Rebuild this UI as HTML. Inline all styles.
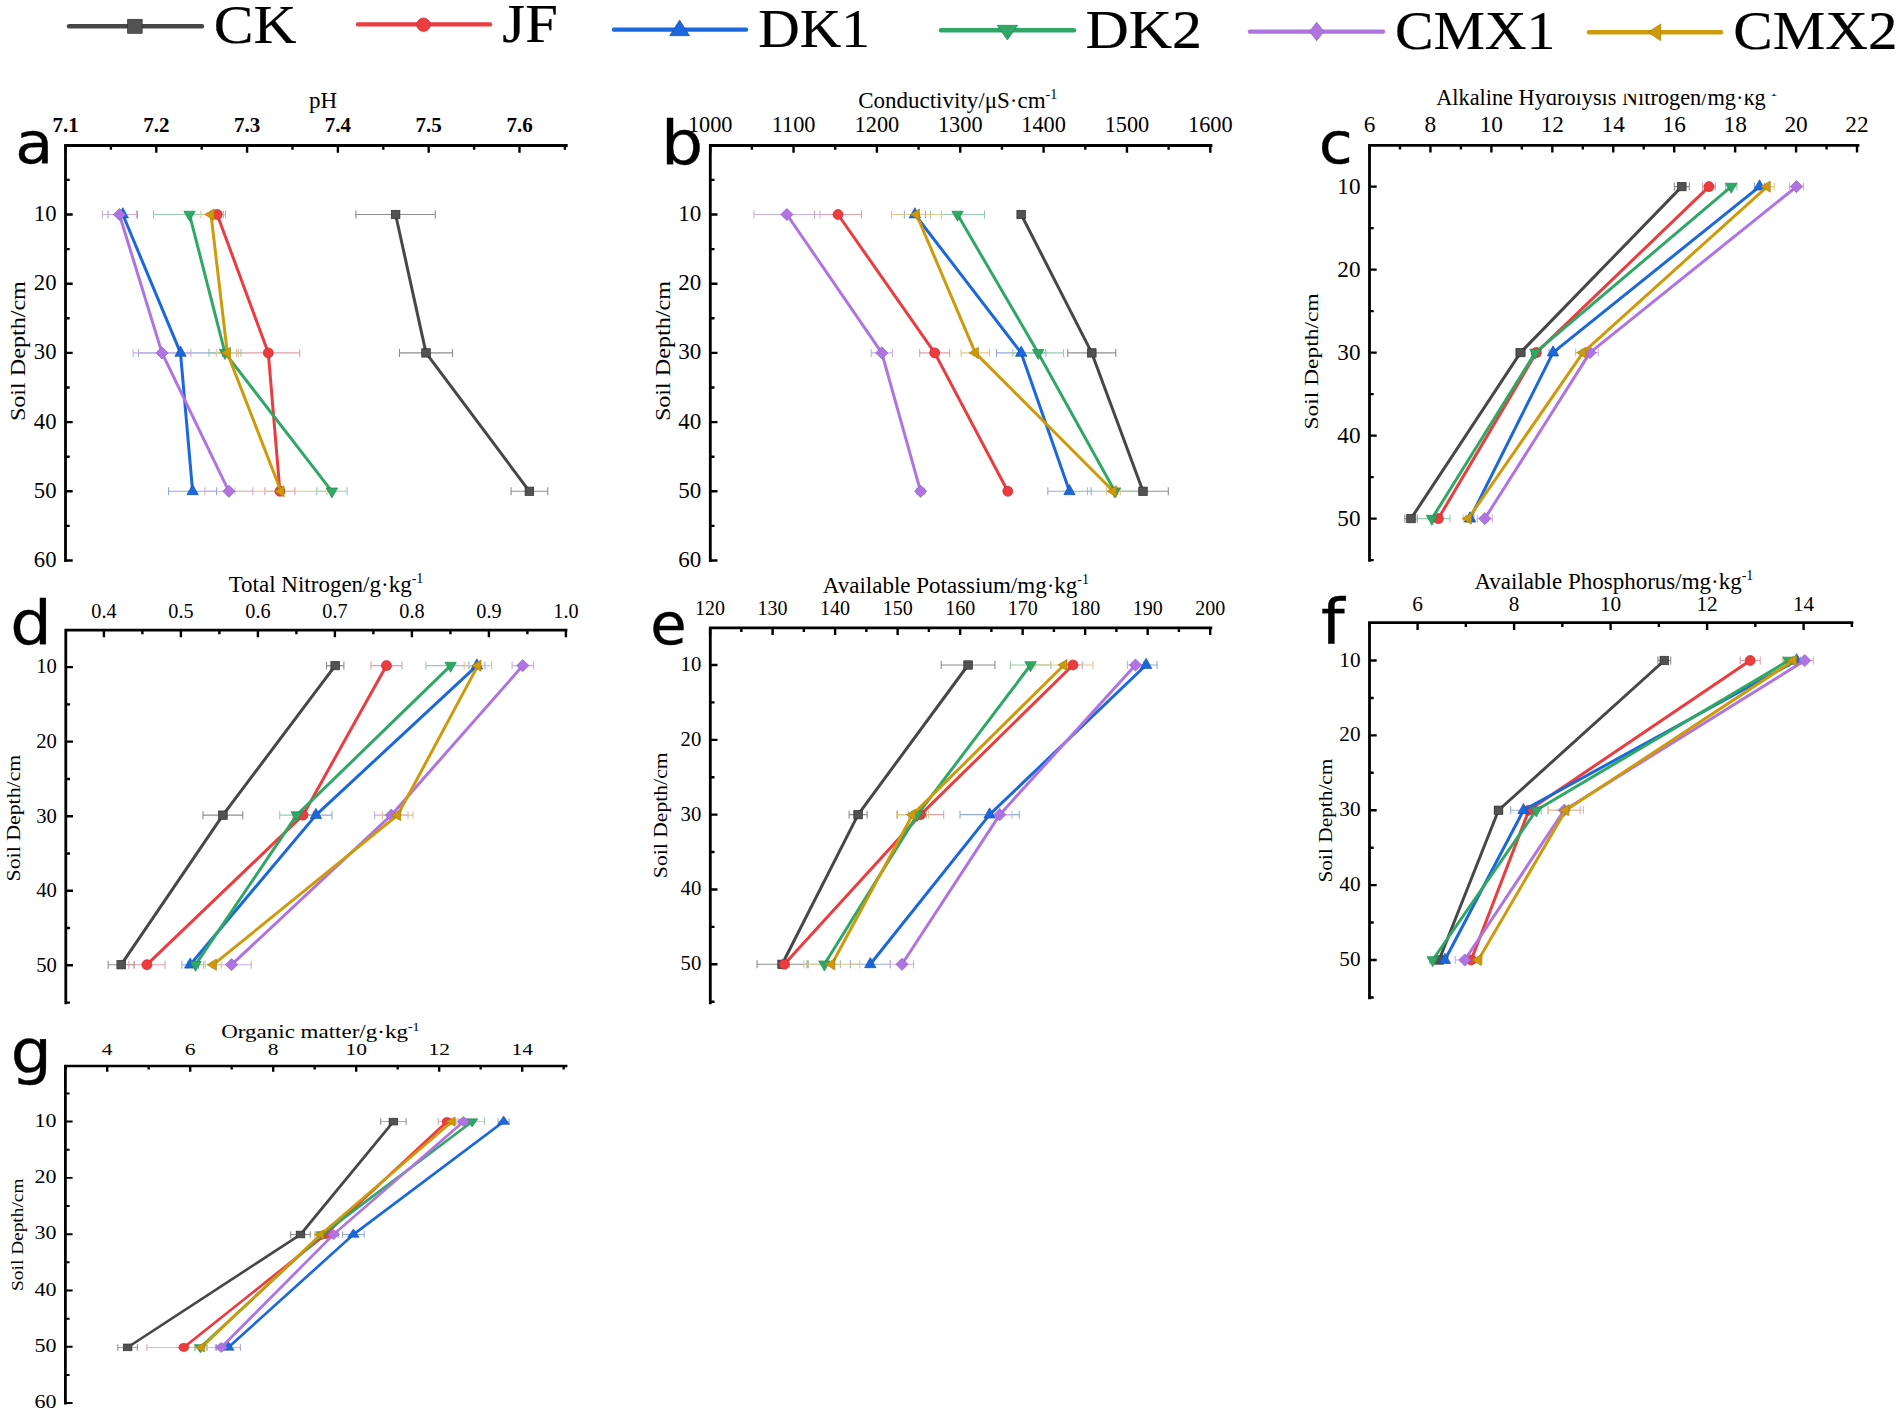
<!DOCTYPE html>
<html><head><meta charset="utf-8"><title>Soil depth profiles</title>
<style>html,body{margin:0;padding:0;background:#fff;}svg{display:block;}</style>
</head><body>
<svg width="1902" height="1416" viewBox="0 0 1902 1416">
<rect width="1902" height="1416" fill="#fff"/>
<line x1="69" y1="26.3" x2="202" y2="26.3" stroke="#474747" stroke-width="4.4" stroke-linecap="round"/>
<rect x="127.65" y="19.3" width="14.5" height="14" fill="#525252" stroke="#303030" stroke-width="0.7"/>
<text transform="matrix(0.59567 0 0 0.54762 213.86 43.35)" font-family="'Liberation Serif','Times New Roman',serif" font-size="100" stroke="#000" stroke-width="0.4">CK</text>
<line x1="358" y1="24.4" x2="490" y2="24.4" stroke="#ec3c40" stroke-width="4.4" stroke-linecap="round"/>
<ellipse cx="423.5" cy="24.7" rx="6.75" ry="6.75" fill="#ec3c40" stroke="#c8282e" stroke-width="0.7"/>
<text transform="matrix(0.58559 0 0 0.55338 502.37 42.35)" font-family="'Liberation Serif','Times New Roman',serif" font-size="100" stroke="#000" stroke-width="0.4">JF</text>
<line x1="614" y1="29.6" x2="746" y2="29.6" stroke="#1b68dc" stroke-width="4.4" stroke-linecap="round"/>
<polygon points="679.6,20.1 669.7,35.7 689.5,35.7" fill="#1b68dc" stroke="#1450b0" stroke-width="0.7"/>
<text transform="matrix(0.57466 0 0 0.55740 758.23 47.09)" font-family="'Liberation Serif','Times New Roman',serif" font-size="100" stroke="#000" stroke-width="0.4">DK1</text>
<line x1="941" y1="30.2" x2="1074" y2="30.2" stroke="#2fa866" stroke-width="4.4" stroke-linecap="round"/>
<polygon points="1007.4,40 997.15,25.3 1017.65,25.3" fill="#2fa866" stroke="#1f8a50" stroke-width="0.7"/>
<text transform="matrix(0.59892 0 0 0.55572 1085.46 47.69)" font-family="'Liberation Serif','Times New Roman',serif" font-size="100" stroke="#000" stroke-width="0.4">DK2</text>
<line x1="1250" y1="31.6" x2="1383" y2="31.6" stroke="#b074e2" stroke-width="4.4" stroke-linecap="round"/>
<polygon points="1316.7,22.2 1323.95,31.5 1316.7,40.8 1309.45,31.5" fill="#b074e2" stroke="#9060c8" stroke-width="0.7"/>
<text transform="matrix(0.57789 0 0 0.54911 1394.93 48.95)" font-family="'Liberation Serif','Times New Roman',serif" font-size="100" stroke="#000" stroke-width="0.4">CMX1</text>
<line x1="1589" y1="32.2" x2="1721" y2="32.2" stroke="#cf9a0a" stroke-width="4.4" stroke-linecap="round"/>
<polygon points="1648.03,32.3 1660.73,23.9 1660.73,40.7" fill="#cf9a0a" stroke="#a87c08" stroke-width="0.7"/>
<text transform="matrix(0.59098 0 0 0.55060 1733.28 49.45)" font-family="'Liberation Serif','Times New Roman',serif" font-size="100" stroke="#000" stroke-width="0.4">CMX2</text>
<path d="M65.5 145.5H566.3 M65.5 145.5V560.5" stroke="#000" stroke-width="2.8" fill="none" stroke-linecap="square"/>
<path d="M65.5 145.5V152.7 M156.3 145.5V152.7 M247.1 145.5V152.7 M337.9 145.5V152.7 M428.7 145.5V152.7 M519.5 145.5V152.7 M110.9 145.5V149.7 M201.7 145.5V149.7 M292.5 145.5V149.7 M383.3 145.5V149.7 M474.1 145.5V149.7 M564.9 145.5V149.7 M65.5 214.5H72.7 M65.5 283.7H72.7 M65.5 352.9H72.7 M65.5 422.1H72.7 M65.5 491.3H72.7 M65.5 560.5H72.7 M65.5 179.9H69.7 M65.5 249.1H69.7 M65.5 318.3H69.7 M65.5 387.5H69.7 M65.5 456.7H69.7 M65.5 525.9H69.7" stroke="#000" stroke-width="2.4" fill="none"/>
<text x="65.5" y="131.7" font-family="'Liberation Serif','Times New Roman',serif" font-size="21" font-weight="bold" text-anchor="middle">7.1</text>
<text x="156.3" y="131.7" font-family="'Liberation Serif','Times New Roman',serif" font-size="21" font-weight="bold" text-anchor="middle">7.2</text>
<text x="247.1" y="131.7" font-family="'Liberation Serif','Times New Roman',serif" font-size="21" font-weight="bold" text-anchor="middle">7.3</text>
<text x="337.9" y="131.7" font-family="'Liberation Serif','Times New Roman',serif" font-size="21" font-weight="bold" text-anchor="middle">7.4</text>
<text x="428.7" y="131.7" font-family="'Liberation Serif','Times New Roman',serif" font-size="21" font-weight="bold" text-anchor="middle">7.5</text>
<text x="519.5" y="131.7" font-family="'Liberation Serif','Times New Roman',serif" font-size="21" font-weight="bold" text-anchor="middle">7.6</text>
<text x="56.5" y="220.9" font-family="'Liberation Serif','Times New Roman',serif" font-size="22.7" font-weight="normal" text-anchor="end">10</text>
<text x="56.5" y="290.1" font-family="'Liberation Serif','Times New Roman',serif" font-size="22.7" font-weight="normal" text-anchor="end">20</text>
<text x="56.5" y="359.3" font-family="'Liberation Serif','Times New Roman',serif" font-size="22.7" font-weight="normal" text-anchor="end">30</text>
<text x="56.5" y="428.5" font-family="'Liberation Serif','Times New Roman',serif" font-size="22.7" font-weight="normal" text-anchor="end">40</text>
<text x="56.5" y="497.7" font-family="'Liberation Serif','Times New Roman',serif" font-size="22.7" font-weight="normal" text-anchor="end">50</text>
<text x="56.5" y="566.9" font-family="'Liberation Serif','Times New Roman',serif" font-size="22.7" font-weight="normal" text-anchor="end">60</text>
<text x="323" y="107.7" font-family="'Liberation Serif','Times New Roman',serif" font-size="23" font-weight="normal" text-anchor="middle">pH</text>
<text transform="matrix(0 -0.24135 0.20507 0 25.03 421.12)" font-family="'Liberation Serif','Times New Roman',serif" font-size="100">Soil Depth/cm</text>
<path d="M355.9 214.5H435.3 M355.9 210.5V218.5 M435.3 210.5V218.5 M399.5 352.9H452.5 M399.5 348.9V356.9 M452.5 348.9V356.9 M511.1 491.3H547.7 M511.1 487.3V495.3 M547.7 487.3V495.3" stroke="#8e8e8e" stroke-width="1.1" fill="none"/>
<path d="M210.9 214.5H223.5 M210.9 210.5V218.5 M223.5 210.5V218.5 M236.8 352.9H299.8 M236.8 348.9V356.9 M299.8 348.9V356.9 M264.9 491.3H294.9 M264.9 487.3V495.3 M294.9 487.3V495.3" stroke="#dea0a6" stroke-width="1.1" fill="none"/>
<path d="M108.1 214.5H137.5 M108.1 210.5V218.5 M137.5 210.5V218.5 M138.5 352.9H222.5 M138.5 348.9V356.9 M222.5 348.9V356.9 M168.6 491.3H216.6 M168.6 487.3V495.3 M216.6 487.3V495.3" stroke="#94aad8" stroke-width="1.1" fill="none"/>
<path d="M153.5 214.5H225.5 M153.5 210.5V218.5 M225.5 210.5V218.5 M209 352.9H241 M209 348.9V356.9 M241 348.9V356.9 M316.7 491.3H347.1 M316.7 487.3V495.3 M347.1 487.3V495.3" stroke="#98cbb0" stroke-width="1.1" fill="none"/>
<path d="M102.4 214.5H136.4 M102.4 210.5V218.5 M136.4 210.5V218.5 M133.1 352.9H190.9 M133.1 348.9V356.9 M190.9 348.9V356.9 M204.9 491.3H252.9 M204.9 487.3V495.3 M252.9 487.3V495.3" stroke="#c8afe6" stroke-width="1.1" fill="none"/>
<path d="M201 214.5H221 M201 210.5V218.5 M221 210.5V218.5 M216.3 352.9H238.3 M216.3 348.9V356.9 M238.3 348.9V356.9 M235 491.3H327 M235 487.3V495.3 M327 487.3V495.3" stroke="#dec690" stroke-width="1.1" fill="none"/>
<polyline points="395.6,214.5 426,352.9 529.4,491.3" stroke="#474747" stroke-width="3" fill="none" stroke-linejoin="round"/>
<rect x="391.3" y="210.3" width="8.6" height="8.4" fill="#525252" stroke="#303030" stroke-width="0.7"/>
<rect x="421.7" y="348.7" width="8.6" height="8.4" fill="#525252" stroke="#303030" stroke-width="0.7"/>
<rect x="525.1" y="487.1" width="8.6" height="8.4" fill="#525252" stroke="#303030" stroke-width="0.7"/>
<polyline points="217.2,214.5 268.3,352.9 279.9,491.3" stroke="#ec3c40" stroke-width="3" fill="none" stroke-linejoin="round"/>
<ellipse cx="217.2" cy="214.5" rx="5" ry="5" fill="#ec3c40" stroke="#c8282e" stroke-width="0.7"/>
<ellipse cx="268.3" cy="352.9" rx="5" ry="5" fill="#ec3c40" stroke="#c8282e" stroke-width="0.7"/>
<ellipse cx="279.9" cy="491.3" rx="5" ry="5" fill="#ec3c40" stroke="#c8282e" stroke-width="0.7"/>
<polyline points="122.8,214.5 180.5,352.9 192.6,491.3" stroke="#1b68dc" stroke-width="3" fill="none" stroke-linejoin="round"/>
<polygon points="122.8,207.7 117.1,217.9 128.5,217.9" fill="#1b68dc" stroke="#1450b0" stroke-width="0.7"/>
<polygon points="180.5,346.1 174.8,356.3 186.2,356.3" fill="#1b68dc" stroke="#1450b0" stroke-width="0.7"/>
<polygon points="192.6,484.5 186.9,494.7 198.3,494.7" fill="#1b68dc" stroke="#1450b0" stroke-width="0.7"/>
<polyline points="189.5,214.5 225,352.9 331.9,491.3" stroke="#2fa866" stroke-width="3" fill="none" stroke-linejoin="round"/>
<polygon points="189.5,221.17 183.8,211.17 195.2,211.17" fill="#2fa866" stroke="#1f8a50" stroke-width="0.7"/>
<polygon points="225,359.57 219.3,349.57 230.7,349.57" fill="#2fa866" stroke="#1f8a50" stroke-width="0.7"/>
<polygon points="331.9,497.97 326.2,487.97 337.6,487.97" fill="#2fa866" stroke="#1f8a50" stroke-width="0.7"/>
<polyline points="119.4,214.5 162,352.9 228.9,491.3" stroke="#b074e2" stroke-width="3" fill="none" stroke-linejoin="round"/>
<polygon points="119.4,208.4 125.5,214.5 119.4,220.6 113.3,214.5" fill="#b074e2" stroke="#9060c8" stroke-width="0.7"/>
<polygon points="162,346.8 168.1,352.9 162,359 155.9,352.9" fill="#b074e2" stroke="#9060c8" stroke-width="0.7"/>
<polygon points="228.9,485.2 235,491.3 228.9,497.4 222.8,491.3" fill="#b074e2" stroke="#9060c8" stroke-width="0.7"/>
<polyline points="211,214.5 227.3,352.9 281,491.3" stroke="#cf9a0a" stroke-width="3" fill="none" stroke-linejoin="round"/>
<polygon points="204.87,214.5 214.07,208.9 214.07,220.1" fill="#cf9a0a" stroke="#a87c08" stroke-width="0.7"/>
<polygon points="221.17,352.9 230.37,347.3 230.37,358.5" fill="#cf9a0a" stroke="#a87c08" stroke-width="0.7"/>
<polygon points="274.87,491.3 284.07,485.7 284.07,496.9" fill="#cf9a0a" stroke="#a87c08" stroke-width="0.7"/>
<path d="M710.3 145.5H1211 M710.3 145.5V560.5" stroke="#000" stroke-width="2.8" fill="none" stroke-linecap="square"/>
<path d="M710.2 145.5V152.7 M793.55 145.5V152.7 M876.9 145.5V152.7 M960.25 145.5V152.7 M1043.6 145.5V152.7 M1126.95 145.5V152.7 M1210.3 145.5V152.7 M751.88 145.5V149.7 M835.23 145.5V149.7 M918.58 145.5V149.7 M1001.93 145.5V149.7 M1085.28 145.5V149.7 M1168.62 145.5V149.7 M710.3 214.5H717.5 M710.3 283.7H717.5 M710.3 352.9H717.5 M710.3 422.1H717.5 M710.3 491.3H717.5 M710.3 560.5H717.5 M710.3 179.9H714.5 M710.3 249.1H714.5 M710.3 318.3H714.5 M710.3 387.5H714.5 M710.3 456.7H714.5 M710.3 525.9H714.5" stroke="#000" stroke-width="2.4" fill="none"/>
<text x="710.2" y="131.5" font-family="'Liberation Serif','Times New Roman',serif" font-size="22.3" font-weight="normal" text-anchor="middle">1000</text>
<text x="793.55" y="131.5" font-family="'Liberation Serif','Times New Roman',serif" font-size="22.3" font-weight="normal" text-anchor="middle">1100</text>
<text x="876.9" y="131.5" font-family="'Liberation Serif','Times New Roman',serif" font-size="22.3" font-weight="normal" text-anchor="middle">1200</text>
<text x="960.25" y="131.5" font-family="'Liberation Serif','Times New Roman',serif" font-size="22.3" font-weight="normal" text-anchor="middle">1300</text>
<text x="1043.6" y="131.5" font-family="'Liberation Serif','Times New Roman',serif" font-size="22.3" font-weight="normal" text-anchor="middle">1400</text>
<text x="1126.95" y="131.5" font-family="'Liberation Serif','Times New Roman',serif" font-size="22.3" font-weight="normal" text-anchor="middle">1500</text>
<text x="1210.3" y="131.5" font-family="'Liberation Serif','Times New Roman',serif" font-size="22.3" font-weight="normal" text-anchor="middle">1600</text>
<text x="701.3" y="220.9" font-family="'Liberation Serif','Times New Roman',serif" font-size="23" font-weight="normal" text-anchor="end">10</text>
<text x="701.3" y="290.1" font-family="'Liberation Serif','Times New Roman',serif" font-size="23" font-weight="normal" text-anchor="end">20</text>
<text x="701.3" y="359.3" font-family="'Liberation Serif','Times New Roman',serif" font-size="23" font-weight="normal" text-anchor="end">30</text>
<text x="701.3" y="428.5" font-family="'Liberation Serif','Times New Roman',serif" font-size="23" font-weight="normal" text-anchor="end">40</text>
<text x="701.3" y="497.7" font-family="'Liberation Serif','Times New Roman',serif" font-size="23" font-weight="normal" text-anchor="end">50</text>
<text x="701.3" y="566.9" font-family="'Liberation Serif','Times New Roman',serif" font-size="23" font-weight="normal" text-anchor="end">60</text>
<text x="957.7" y="107.5" font-family="'Liberation Serif','Times New Roman',serif" font-size="23" font-weight="normal" text-anchor="middle">Conductivity/μS·cm<tspan dy="-9" font-size="14">-1</tspan></text>
<text transform="matrix(0 -0.24135 0.20728 0 669.99 421.12)" font-family="'Liberation Serif','Times New Roman',serif" font-size="100">Soil Depth/cm</text>
<path d="M1018.2 214.5H1024.2 M1018.2 210.5V218.5 M1024.2 210.5V218.5 M1067.8 352.9H1115.8 M1067.8 348.9V356.9 M1115.8 348.9V356.9 M1117.7 491.3H1168.3 M1117.7 487.3V495.3 M1168.3 487.3V495.3" stroke="#8e8e8e" stroke-width="1.1" fill="none"/>
<path d="M814.5 214.5H861.5 M814.5 210.5V218.5 M861.5 210.5V218.5 M919.7 352.9H949.7 M919.7 348.9V356.9 M949.7 348.9V356.9 M1004.8 491.3H1010.8 M1004.8 487.3V495.3 M1010.8 487.3V495.3" stroke="#dea0a6" stroke-width="1.1" fill="none"/>
<path d="M904.4 214.5H925.4 M904.4 210.5V218.5 M925.4 210.5V218.5 M996.5 352.9H1045.9 M996.5 348.9V356.9 M1045.9 348.9V356.9 M1047.8 491.3H1091.2 M1047.8 487.3V495.3 M1091.2 487.3V495.3" stroke="#94aad8" stroke-width="1.1" fill="none"/>
<path d="M930.5 214.5H984.5 M930.5 210.5V218.5 M984.5 210.5V218.5 M1012.8 352.9H1063.6 M1012.8 348.9V356.9 M1063.6 348.9V356.9 M1087.5 491.3H1142.1 M1087.5 487.3V495.3 M1142.1 487.3V495.3" stroke="#98cbb0" stroke-width="1.1" fill="none"/>
<path d="M753.9 214.5H819.9 M753.9 210.5V218.5 M819.9 210.5V218.5 M871.2 352.9H892.4 M871.2 348.9V356.9 M892.4 348.9V356.9 M916.6 491.3H924.6 M916.6 487.3V495.3 M924.6 487.3V495.3" stroke="#c8afe6" stroke-width="1.1" fill="none"/>
<path d="M891.5 214.5H941.5 M891.5 210.5V218.5 M941.5 210.5V218.5 M961.1 352.9H989.5 M961.1 348.9V356.9 M989.5 348.9V356.9 M1106.3 491.3H1120.3 M1106.3 487.3V495.3 M1120.3 487.3V495.3" stroke="#dec690" stroke-width="1.1" fill="none"/>
<polyline points="1021.2,214.5 1091.8,352.9 1143,491.3" stroke="#474747" stroke-width="3" fill="none" stroke-linejoin="round"/>
<rect x="1016.9" y="210.3" width="8.6" height="8.4" fill="#525252" stroke="#303030" stroke-width="0.7"/>
<rect x="1087.5" y="348.7" width="8.6" height="8.4" fill="#525252" stroke="#303030" stroke-width="0.7"/>
<rect x="1138.7" y="487.1" width="8.6" height="8.4" fill="#525252" stroke="#303030" stroke-width="0.7"/>
<polyline points="838,214.5 934.7,352.9 1007.8,491.3" stroke="#ec3c40" stroke-width="3" fill="none" stroke-linejoin="round"/>
<ellipse cx="838" cy="214.5" rx="5" ry="5" fill="#ec3c40" stroke="#c8282e" stroke-width="0.7"/>
<ellipse cx="934.7" cy="352.9" rx="5" ry="5" fill="#ec3c40" stroke="#c8282e" stroke-width="0.7"/>
<ellipse cx="1007.8" cy="491.3" rx="5" ry="5" fill="#ec3c40" stroke="#c8282e" stroke-width="0.7"/>
<polyline points="914.9,214.5 1021.2,352.9 1069.5,491.3" stroke="#1b68dc" stroke-width="3" fill="none" stroke-linejoin="round"/>
<polygon points="914.9,207.7 909.2,217.9 920.6,217.9" fill="#1b68dc" stroke="#1450b0" stroke-width="0.7"/>
<polygon points="1021.2,346.1 1015.5,356.3 1026.9,356.3" fill="#1b68dc" stroke="#1450b0" stroke-width="0.7"/>
<polygon points="1069.5,484.5 1063.8,494.7 1075.2,494.7" fill="#1b68dc" stroke="#1450b0" stroke-width="0.7"/>
<polyline points="957.5,214.5 1038.2,352.9 1114.8,491.3" stroke="#2fa866" stroke-width="3" fill="none" stroke-linejoin="round"/>
<polygon points="957.5,221.17 951.8,211.17 963.2,211.17" fill="#2fa866" stroke="#1f8a50" stroke-width="0.7"/>
<polygon points="1038.2,359.57 1032.5,349.57 1043.9,349.57" fill="#2fa866" stroke="#1f8a50" stroke-width="0.7"/>
<polygon points="1114.8,497.97 1109.1,487.97 1120.5,487.97" fill="#2fa866" stroke="#1f8a50" stroke-width="0.7"/>
<polyline points="786.9,214.5 881.8,352.9 920.6,491.3" stroke="#b074e2" stroke-width="3" fill="none" stroke-linejoin="round"/>
<polygon points="786.9,208.4 793,214.5 786.9,220.6 780.8,214.5" fill="#b074e2" stroke="#9060c8" stroke-width="0.7"/>
<polygon points="881.8,346.8 887.9,352.9 881.8,359 875.7,352.9" fill="#b074e2" stroke="#9060c8" stroke-width="0.7"/>
<polygon points="920.6,485.2 926.7,491.3 920.6,497.4 914.5,491.3" fill="#b074e2" stroke="#9060c8" stroke-width="0.7"/>
<polyline points="916.5,214.5 975.3,352.9 1113.3,491.3" stroke="#cf9a0a" stroke-width="3" fill="none" stroke-linejoin="round"/>
<polygon points="910.37,214.5 919.57,208.9 919.57,220.1" fill="#cf9a0a" stroke="#a87c08" stroke-width="0.7"/>
<polygon points="969.17,352.9 978.37,347.3 978.37,358.5" fill="#cf9a0a" stroke="#a87c08" stroke-width="0.7"/>
<polygon points="1107.17,491.3 1116.37,485.7 1116.37,496.9" fill="#cf9a0a" stroke="#a87c08" stroke-width="0.7"/>
<path d="M1369.5 145.3H1858 M1369.5 145.3V560.4" stroke="#000" stroke-width="2.8" fill="none" stroke-linecap="square"/>
<path d="M1369.5 145.3V152.5 M1430.44 145.3V152.5 M1491.38 145.3V152.5 M1552.32 145.3V152.5 M1613.26 145.3V152.5 M1674.2 145.3V152.5 M1735.14 145.3V152.5 M1796.08 145.3V152.5 M1857.02 145.3V152.5 M1399.97 145.3V149.5 M1460.91 145.3V149.5 M1521.85 145.3V149.5 M1582.79 145.3V149.5 M1643.73 145.3V149.5 M1704.67 145.3V149.5 M1765.61 145.3V149.5 M1826.55 145.3V149.5 M1369.5 186.6H1376.7 M1369.5 269.6H1376.7 M1369.5 352.6H1376.7 M1369.5 435.6H1376.7 M1369.5 518.6H1376.7 M1369.5 228.1H1373.7 M1369.5 311.1H1373.7 M1369.5 394.1H1373.7 M1369.5 477.1H1373.7 M1369.5 560.1H1373.7" stroke="#000" stroke-width="2.4" fill="none"/>
<text x="1369.5" y="131.9" font-family="'Liberation Serif','Times New Roman',serif" font-size="23.3" font-weight="normal" text-anchor="middle">6</text>
<text x="1430.44" y="131.9" font-family="'Liberation Serif','Times New Roman',serif" font-size="23.3" font-weight="normal" text-anchor="middle">8</text>
<text x="1491.38" y="131.9" font-family="'Liberation Serif','Times New Roman',serif" font-size="23.3" font-weight="normal" text-anchor="middle">10</text>
<text x="1552.32" y="131.9" font-family="'Liberation Serif','Times New Roman',serif" font-size="23.3" font-weight="normal" text-anchor="middle">12</text>
<text x="1613.26" y="131.9" font-family="'Liberation Serif','Times New Roman',serif" font-size="23.3" font-weight="normal" text-anchor="middle">14</text>
<text x="1674.2" y="131.9" font-family="'Liberation Serif','Times New Roman',serif" font-size="23.3" font-weight="normal" text-anchor="middle">16</text>
<text x="1735.14" y="131.9" font-family="'Liberation Serif','Times New Roman',serif" font-size="23.3" font-weight="normal" text-anchor="middle">18</text>
<text x="1796.08" y="131.9" font-family="'Liberation Serif','Times New Roman',serif" font-size="23.3" font-weight="normal" text-anchor="middle">20</text>
<text x="1857.02" y="131.9" font-family="'Liberation Serif','Times New Roman',serif" font-size="23.3" font-weight="normal" text-anchor="middle">22</text>
<text x="1360.5" y="193.6" font-family="'Liberation Serif','Times New Roman',serif" font-size="23.2" font-weight="normal" text-anchor="end">10</text>
<text x="1360.5" y="276.6" font-family="'Liberation Serif','Times New Roman',serif" font-size="23.2" font-weight="normal" text-anchor="end">20</text>
<text x="1360.5" y="359.6" font-family="'Liberation Serif','Times New Roman',serif" font-size="23.2" font-weight="normal" text-anchor="end">30</text>
<text x="1360.5" y="442.6" font-family="'Liberation Serif','Times New Roman',serif" font-size="23.2" font-weight="normal" text-anchor="end">40</text>
<text x="1360.5" y="525.6" font-family="'Liberation Serif','Times New Roman',serif" font-size="23.2" font-weight="normal" text-anchor="end">50</text>
<text x="1606.8" y="104.7" font-family="'Liberation Serif','Times New Roman',serif" font-size="22.3" font-weight="normal" text-anchor="middle">Alkaline Hydrolysis Nitrogen/mg·kg<tspan dy="-9" font-size="14">-1</tspan></text>
<text transform="matrix(0 -0.23488 0.19294 0 1317.99 429.57)" font-family="'Liberation Serif','Times New Roman',serif" font-size="100">Soil Depth/cm</text>
<path d="M1674.3 186.6H1689.3 M1674.3 182.6V190.6 M1689.3 182.6V190.6 M1515.8 352.6H1525.2 M1515.8 348.6V356.6 M1525.2 348.6V356.6 M1404.8 518.6H1417.2 M1404.8 514.6V522.6 M1417.2 514.6V522.6" stroke="#8e8e8e" stroke-width="1.1" fill="none"/>
<path d="M1702.5 186.6H1715.5 M1702.5 182.6V190.6 M1715.5 182.6V190.6 M1532.4 352.6H1540.4 M1532.4 348.6V356.6 M1540.4 348.6V356.6 M1434.3 518.6H1442.3 M1434.3 514.6V522.6 M1442.3 514.6V522.6" stroke="#dea0a6" stroke-width="1.1" fill="none"/>
<path d="M1754.5 186.6H1764.5 M1754.5 182.6V190.6 M1764.5 182.6V190.6 M1549 352.6H1557 M1549 348.6V356.6 M1557 348.6V356.6 M1466 518.6H1474 M1466 514.6V522.6 M1474 514.6V522.6" stroke="#94aad8" stroke-width="1.1" fill="none"/>
<path d="M1725.4 186.6H1737 M1725.4 182.6V190.6 M1737 182.6V190.6 M1531.3 352.6H1539.3 M1531.3 348.6V356.6 M1539.3 348.6V356.6 M1413.9 518.6H1449.9 M1413.9 514.6V522.6 M1449.9 514.6V522.6" stroke="#98cbb0" stroke-width="1.1" fill="none"/>
<path d="M1789.5 186.6H1803.5 M1789.5 182.6V190.6 M1803.5 182.6V190.6 M1581.7 352.6H1598.3 M1581.7 348.6V356.6 M1598.3 348.6V356.6 M1477.3 518.6H1492.3 M1477.3 514.6V522.6 M1492.3 514.6V522.6" stroke="#c8afe6" stroke-width="1.1" fill="none"/>
<path d="M1760.2 186.6H1774.2 M1760.2 182.6V190.6 M1774.2 182.6V190.6 M1575.6 352.6H1590.4 M1575.6 348.6V356.6 M1590.4 348.6V356.6 M1463.3 518.6H1473.3 M1463.3 514.6V522.6 M1473.3 514.6V522.6" stroke="#dec690" stroke-width="1.1" fill="none"/>
<polyline points="1681.8,186.6 1520.5,352.6 1411,518.6" stroke="#474747" stroke-width="3" fill="none" stroke-linejoin="round"/>
<rect x="1677.5" y="182.4" width="8.6" height="8.4" fill="#525252" stroke="#303030" stroke-width="0.7"/>
<rect x="1516.2" y="348.4" width="8.6" height="8.4" fill="#525252" stroke="#303030" stroke-width="0.7"/>
<rect x="1406.7" y="514.4" width="8.6" height="8.4" fill="#525252" stroke="#303030" stroke-width="0.7"/>
<polyline points="1709,186.6 1536.4,352.6 1438.3,518.6" stroke="#ec3c40" stroke-width="3" fill="none" stroke-linejoin="round"/>
<ellipse cx="1709" cy="186.6" rx="5" ry="5" fill="#ec3c40" stroke="#c8282e" stroke-width="0.7"/>
<ellipse cx="1536.4" cy="352.6" rx="5" ry="5" fill="#ec3c40" stroke="#c8282e" stroke-width="0.7"/>
<ellipse cx="1438.3" cy="518.6" rx="5" ry="5" fill="#ec3c40" stroke="#c8282e" stroke-width="0.7"/>
<polyline points="1759.5,186.6 1553,352.6 1470,518.6" stroke="#1b68dc" stroke-width="3" fill="none" stroke-linejoin="round"/>
<polygon points="1759.5,179.8 1753.8,190 1765.2,190" fill="#1b68dc" stroke="#1450b0" stroke-width="0.7"/>
<polygon points="1553,345.8 1547.3,356 1558.7,356" fill="#1b68dc" stroke="#1450b0" stroke-width="0.7"/>
<polygon points="1470,511.8 1464.3,522 1475.7,522" fill="#1b68dc" stroke="#1450b0" stroke-width="0.7"/>
<polyline points="1731.2,186.6 1535.3,352.6 1431.9,518.6" stroke="#2fa866" stroke-width="3" fill="none" stroke-linejoin="round"/>
<polygon points="1731.2,193.27 1725.5,183.27 1736.9,183.27" fill="#2fa866" stroke="#1f8a50" stroke-width="0.7"/>
<polygon points="1535.3,359.27 1529.6,349.27 1541,349.27" fill="#2fa866" stroke="#1f8a50" stroke-width="0.7"/>
<polygon points="1431.9,525.27 1426.2,515.27 1437.6,515.27" fill="#2fa866" stroke="#1f8a50" stroke-width="0.7"/>
<polyline points="1796.5,186.6 1590,352.6 1484.8,518.6" stroke="#b074e2" stroke-width="3" fill="none" stroke-linejoin="round"/>
<polygon points="1796.5,180.5 1802.6,186.6 1796.5,192.7 1790.4,186.6" fill="#b074e2" stroke="#9060c8" stroke-width="0.7"/>
<polygon points="1590,346.5 1596.1,352.6 1590,358.7 1583.9,352.6" fill="#b074e2" stroke="#9060c8" stroke-width="0.7"/>
<polygon points="1484.8,512.5 1490.9,518.6 1484.8,524.7 1478.7,518.6" fill="#b074e2" stroke="#9060c8" stroke-width="0.7"/>
<polyline points="1767.2,186.6 1583,352.6 1468.3,518.6" stroke="#cf9a0a" stroke-width="3" fill="none" stroke-linejoin="round"/>
<polygon points="1761.07,186.6 1770.27,181 1770.27,192.2" fill="#cf9a0a" stroke="#a87c08" stroke-width="0.7"/>
<polygon points="1576.87,352.6 1586.07,347 1586.07,358.2" fill="#cf9a0a" stroke="#a87c08" stroke-width="0.7"/>
<polygon points="1462.17,518.6 1471.37,513 1471.37,524.2" fill="#cf9a0a" stroke="#a87c08" stroke-width="0.7"/>
<path d="M65.8 630.1H566 M65.8 630.1V1002.8" stroke="#000" stroke-width="2.8" fill="none" stroke-linecap="square"/>
<path d="M103.9 630.1V637.3 M180.9 630.1V637.3 M257.9 630.1V637.3 M334.9 630.1V637.3 M411.9 630.1V637.3 M488.9 630.1V637.3 M565.9 630.1V637.3 M142.4 630.1V634.3 M219.4 630.1V634.3 M296.4 630.1V634.3 M373.4 630.1V634.3 M450.4 630.1V634.3 M527.4 630.1V634.3 M65.8 667.1H73 M65.8 741.65H73 M65.8 816.2H73 M65.8 890.75H73 M65.8 965.3H73 M65.8 704.38H70 M65.8 778.93H70 M65.8 853.48H70 M65.8 928.03H70 M65.8 1002.58H70" stroke="#000" stroke-width="2.4" fill="none"/>
<text x="103.9" y="617.6" font-family="'Liberation Serif','Times New Roman',serif" font-size="20.2" font-weight="normal" text-anchor="middle">0.4</text>
<text x="180.9" y="617.6" font-family="'Liberation Serif','Times New Roman',serif" font-size="20.2" font-weight="normal" text-anchor="middle">0.5</text>
<text x="257.9" y="617.6" font-family="'Liberation Serif','Times New Roman',serif" font-size="20.2" font-weight="normal" text-anchor="middle">0.6</text>
<text x="334.9" y="617.6" font-family="'Liberation Serif','Times New Roman',serif" font-size="20.2" font-weight="normal" text-anchor="middle">0.7</text>
<text x="411.9" y="617.6" font-family="'Liberation Serif','Times New Roman',serif" font-size="20.2" font-weight="normal" text-anchor="middle">0.8</text>
<text x="488.9" y="617.6" font-family="'Liberation Serif','Times New Roman',serif" font-size="20.2" font-weight="normal" text-anchor="middle">0.9</text>
<text x="565.9" y="617.6" font-family="'Liberation Serif','Times New Roman',serif" font-size="20.2" font-weight="normal" text-anchor="middle">1.0</text>
<text x="56.8" y="673.4" font-family="'Liberation Serif','Times New Roman',serif" font-size="20.6" font-weight="normal" text-anchor="end">10</text>
<text x="56.8" y="747.95" font-family="'Liberation Serif','Times New Roman',serif" font-size="20.6" font-weight="normal" text-anchor="end">20</text>
<text x="56.8" y="822.5" font-family="'Liberation Serif','Times New Roman',serif" font-size="20.6" font-weight="normal" text-anchor="end">30</text>
<text x="56.8" y="897.05" font-family="'Liberation Serif','Times New Roman',serif" font-size="20.6" font-weight="normal" text-anchor="end">40</text>
<text x="56.8" y="971.6" font-family="'Liberation Serif','Times New Roman',serif" font-size="20.6" font-weight="normal" text-anchor="end">50</text>
<text x="326" y="592.3" font-family="'Liberation Serif','Times New Roman',serif" font-size="23" font-weight="normal" text-anchor="middle">Total Nitrogen/g·kg<tspan dy="-9" font-size="14">-1</tspan></text>
<text transform="matrix(0 -0.21846 0.18082 0 19.95 881.46)" font-family="'Liberation Serif','Times New Roman',serif" font-size="100">Soil Depth/cm</text>
<path d="M326.5 665.6H343.9 M326.5 661.6V669.6 M343.9 661.6V669.6 M203 815.15H242.8 M203 811.15V819.15 M242.8 811.15V819.15 M108.2 964.7H134.2 M108.2 960.7V968.7 M134.2 960.7V968.7" stroke="#8e8e8e" stroke-width="1.1" fill="none"/>
<path d="M371 665.6H402 M371 661.6V669.6 M402 661.6V669.6 M293 815.15H313 M293 811.15V819.15 M313 811.15V819.15 M128.8 964.7H165 M128.8 960.7V968.7 M165 960.7V968.7" stroke="#dea0a6" stroke-width="1.1" fill="none"/>
<path d="M468.9 665.6H484.9 M468.9 661.6V669.6 M484.9 661.6V669.6 M299.8 815.15H332 M299.8 811.15V819.15 M332 811.15V819.15 M181.8 964.7H198.6 M181.8 960.7V968.7 M198.6 960.7V968.7" stroke="#94aad8" stroke-width="1.1" fill="none"/>
<path d="M425.9 665.6H475.3 M425.9 661.6V669.6 M475.3 661.6V669.6 M279.7 815.15H313.7 M279.7 811.15V819.15 M313.7 811.15V819.15 M187.6 964.7H203.6 M187.6 960.7V968.7 M203.6 960.7V968.7" stroke="#98cbb0" stroke-width="1.1" fill="none"/>
<path d="M512.1 665.6H533.5 M512.1 661.6V669.6 M533.5 661.6V669.6 M374.6 815.15H408 M374.6 811.15V819.15 M408 811.15V819.15 M211.9 964.7H251.3 M211.9 960.7V968.7 M251.3 960.7V968.7" stroke="#c8afe6" stroke-width="1.1" fill="none"/>
<path d="M464.2 665.6H491.6 M464.2 661.6V669.6 M491.6 661.6V669.6 M382.4 815.15H413 M382.4 811.15V819.15 M413 811.15V819.15 M205.3 964.7H221.3 M205.3 960.7V968.7 M221.3 960.7V968.7" stroke="#dec690" stroke-width="1.1" fill="none"/>
<polyline points="335.2,665.6 222.9,815.15 121.2,964.7" stroke="#474747" stroke-width="3" fill="none" stroke-linejoin="round"/>
<rect x="330.9" y="661.4" width="8.6" height="8.4" fill="#525252" stroke="#303030" stroke-width="0.7"/>
<rect x="218.6" y="810.95" width="8.6" height="8.4" fill="#525252" stroke="#303030" stroke-width="0.7"/>
<rect x="116.9" y="960.5" width="8.6" height="8.4" fill="#525252" stroke="#303030" stroke-width="0.7"/>
<polyline points="386.5,665.6 303,815.15 146.9,964.7" stroke="#ec3c40" stroke-width="3" fill="none" stroke-linejoin="round"/>
<ellipse cx="386.5" cy="665.6" rx="5" ry="5" fill="#ec3c40" stroke="#c8282e" stroke-width="0.7"/>
<ellipse cx="303" cy="815.15" rx="5" ry="5" fill="#ec3c40" stroke="#c8282e" stroke-width="0.7"/>
<ellipse cx="146.9" cy="964.7" rx="5" ry="5" fill="#ec3c40" stroke="#c8282e" stroke-width="0.7"/>
<polyline points="476.9,665.6 315.9,815.15 190.2,964.7" stroke="#1b68dc" stroke-width="3" fill="none" stroke-linejoin="round"/>
<polygon points="476.9,658.8 471.2,669 482.6,669" fill="#1b68dc" stroke="#1450b0" stroke-width="0.7"/>
<polygon points="315.9,808.35 310.2,818.55 321.6,818.55" fill="#1b68dc" stroke="#1450b0" stroke-width="0.7"/>
<polygon points="190.2,957.9 184.5,968.1 195.9,968.1" fill="#1b68dc" stroke="#1450b0" stroke-width="0.7"/>
<polyline points="450.6,665.6 296.7,815.15 195.6,964.7" stroke="#2fa866" stroke-width="3" fill="none" stroke-linejoin="round"/>
<polygon points="450.6,672.27 444.9,662.27 456.3,662.27" fill="#2fa866" stroke="#1f8a50" stroke-width="0.7"/>
<polygon points="296.7,821.82 291,811.82 302.4,811.82" fill="#2fa866" stroke="#1f8a50" stroke-width="0.7"/>
<polygon points="195.6,971.37 189.9,961.37 201.3,961.37" fill="#2fa866" stroke="#1f8a50" stroke-width="0.7"/>
<polyline points="522.8,665.6 391.3,815.15 231.6,964.7" stroke="#b074e2" stroke-width="3" fill="none" stroke-linejoin="round"/>
<polygon points="522.8,659.5 528.9,665.6 522.8,671.7 516.7,665.6" fill="#b074e2" stroke="#9060c8" stroke-width="0.7"/>
<polygon points="391.3,809.05 397.4,815.15 391.3,821.25 385.2,815.15" fill="#b074e2" stroke="#9060c8" stroke-width="0.7"/>
<polygon points="231.6,958.6 237.7,964.7 231.6,970.8 225.5,964.7" fill="#b074e2" stroke="#9060c8" stroke-width="0.7"/>
<polyline points="477.9,665.6 397.7,815.15 213.3,964.7" stroke="#cf9a0a" stroke-width="3" fill="none" stroke-linejoin="round"/>
<polygon points="471.77,665.6 480.97,660 480.97,671.2" fill="#cf9a0a" stroke="#a87c08" stroke-width="0.7"/>
<polygon points="391.57,815.15 400.77,809.55 400.77,820.75" fill="#cf9a0a" stroke="#a87c08" stroke-width="0.7"/>
<polygon points="207.17,964.7 216.37,959.1 216.37,970.3" fill="#cf9a0a" stroke="#a87c08" stroke-width="0.7"/>
<path d="M710.3 627.8H1210.9 M710.3 627.8V1002.8" stroke="#000" stroke-width="2.8" fill="none" stroke-linecap="square"/>
<path d="M710.1 627.8V635 M772.61 627.8V635 M835.12 627.8V635 M897.63 627.8V635 M960.14 627.8V635 M1022.65 627.8V635 M1085.16 627.8V635 M1147.67 627.8V635 M1210.18 627.8V635 M741.36 627.8V632 M803.87 627.8V632 M866.38 627.8V632 M928.88 627.8V632 M991.39 627.8V632 M1053.9 627.8V632 M1116.41 627.8V632 M1178.93 627.8V632 M710.3 665H717.5 M710.3 739.83H717.5 M710.3 814.65H717.5 M710.3 889.48H717.5 M710.3 964.3H717.5 M710.3 702.41H714.5 M710.3 777.24H714.5 M710.3 852.06H714.5 M710.3 926.89H714.5 M710.3 1001.71H714.5" stroke="#000" stroke-width="2.4" fill="none"/>
<text x="710.1" y="615.4" font-family="'Liberation Serif','Times New Roman',serif" font-size="20" font-weight="normal" text-anchor="middle">120</text>
<text x="772.61" y="615.4" font-family="'Liberation Serif','Times New Roman',serif" font-size="20" font-weight="normal" text-anchor="middle">130</text>
<text x="835.12" y="615.4" font-family="'Liberation Serif','Times New Roman',serif" font-size="20" font-weight="normal" text-anchor="middle">140</text>
<text x="897.63" y="615.4" font-family="'Liberation Serif','Times New Roman',serif" font-size="20" font-weight="normal" text-anchor="middle">150</text>
<text x="960.14" y="615.4" font-family="'Liberation Serif','Times New Roman',serif" font-size="20" font-weight="normal" text-anchor="middle">160</text>
<text x="1022.65" y="615.4" font-family="'Liberation Serif','Times New Roman',serif" font-size="20" font-weight="normal" text-anchor="middle">170</text>
<text x="1085.16" y="615.4" font-family="'Liberation Serif','Times New Roman',serif" font-size="20" font-weight="normal" text-anchor="middle">180</text>
<text x="1147.67" y="615.4" font-family="'Liberation Serif','Times New Roman',serif" font-size="20" font-weight="normal" text-anchor="middle">190</text>
<text x="1210.18" y="615.4" font-family="'Liberation Serif','Times New Roman',serif" font-size="20" font-weight="normal" text-anchor="middle">200</text>
<text x="701.3" y="670.9" font-family="'Liberation Serif','Times New Roman',serif" font-size="20.7" font-weight="normal" text-anchor="end">10</text>
<text x="701.3" y="745.73" font-family="'Liberation Serif','Times New Roman',serif" font-size="20.7" font-weight="normal" text-anchor="end">20</text>
<text x="701.3" y="820.55" font-family="'Liberation Serif','Times New Roman',serif" font-size="20.7" font-weight="normal" text-anchor="end">30</text>
<text x="701.3" y="895.38" font-family="'Liberation Serif','Times New Roman',serif" font-size="20.7" font-weight="normal" text-anchor="end">40</text>
<text x="701.3" y="970.2" font-family="'Liberation Serif','Times New Roman',serif" font-size="20.7" font-weight="normal" text-anchor="end">50</text>
<text x="955.9" y="593.2" font-family="'Liberation Serif','Times New Roman',serif" font-size="23" font-weight="normal" text-anchor="middle">Available Potassium/mg·kg<tspan dy="-9" font-size="14">-1</tspan></text>
<text transform="matrix(0 -0.21671 0.18743 0 667.01 878.15)" font-family="'Liberation Serif','Times New Roman',serif" font-size="100">Soil Depth/cm</text>
<path d="M941.2 665H995 M941.2 661V669 M995 661V669 M849.1 814.65H867.1 M849.1 810.65V818.65 M867.1 810.65V818.65 M757.1 964.3H807.1 M757.1 960.3V968.3 M807.1 960.3V968.3" stroke="#8e8e8e" stroke-width="1.1" fill="none"/>
<path d="M1063.8 665H1082.2 M1063.8 661V669 M1082.2 661V669 M897.5 814.65H943.7 M897.5 810.65V818.65 M943.7 810.65V818.65 M779.3 964.3H789.3 M779.3 960.3V968.3 M789.3 960.3V968.3" stroke="#dea0a6" stroke-width="1.1" fill="none"/>
<path d="M1135.2 665H1157 M1135.2 661V669 M1157 661V669 M960 814.65H1019.2 M960 810.65V818.65 M1019.2 810.65V818.65 M850.4 964.3H890.2 M850.4 960.3V968.3 M890.2 960.3V968.3" stroke="#94aad8" stroke-width="1.1" fill="none"/>
<path d="M1010.4 665H1050.8 M1010.4 661V669 M1050.8 661V669 M908.4 814.65H926.4 M908.4 810.65V818.65 M926.4 810.65V818.65 M808.4 964.3H840.4 M808.4 960.3V968.3 M840.4 960.3V968.3" stroke="#98cbb0" stroke-width="1.1" fill="none"/>
<path d="M1127.5 665H1143.5 M1127.5 661V669 M1143.5 661V669 M987.6 814.65H1012 M987.6 810.65V818.65 M1012 810.65V818.65 M890.5 964.3H913.5 M890.5 960.3V968.3 M913.5 960.3V968.3" stroke="#c8afe6" stroke-width="1.1" fill="none"/>
<path d="M1035 665H1093 M1035 661V669 M1093 661V669 M896.6 814.65H928.6 M896.6 810.65V818.65 M928.6 810.65V818.65 M803.9 964.3H859.7 M803.9 960.3V968.3 M859.7 960.3V968.3" stroke="#dec690" stroke-width="1.1" fill="none"/>
<polyline points="968.1,665 858.1,814.65 782.1,964.3" stroke="#474747" stroke-width="3" fill="none" stroke-linejoin="round"/>
<rect x="963.8" y="660.8" width="8.6" height="8.4" fill="#525252" stroke="#303030" stroke-width="0.7"/>
<rect x="853.8" y="810.45" width="8.6" height="8.4" fill="#525252" stroke="#303030" stroke-width="0.7"/>
<rect x="777.8" y="960.1" width="8.6" height="8.4" fill="#525252" stroke="#303030" stroke-width="0.7"/>
<polyline points="1073,665 920.6,814.65 784.3,964.3" stroke="#ec3c40" stroke-width="3" fill="none" stroke-linejoin="round"/>
<ellipse cx="1073" cy="665" rx="5" ry="5" fill="#ec3c40" stroke="#c8282e" stroke-width="0.7"/>
<ellipse cx="920.6" cy="814.65" rx="5" ry="5" fill="#ec3c40" stroke="#c8282e" stroke-width="0.7"/>
<ellipse cx="784.3" cy="964.3" rx="5" ry="5" fill="#ec3c40" stroke="#c8282e" stroke-width="0.7"/>
<polyline points="1146.1,665 989.6,814.65 870.3,964.3" stroke="#1b68dc" stroke-width="3" fill="none" stroke-linejoin="round"/>
<polygon points="1146.1,658.2 1140.4,668.4 1151.8,668.4" fill="#1b68dc" stroke="#1450b0" stroke-width="0.7"/>
<polygon points="989.6,807.85 983.9,818.05 995.3,818.05" fill="#1b68dc" stroke="#1450b0" stroke-width="0.7"/>
<polygon points="870.3,957.5 864.6,967.7 876,967.7" fill="#1b68dc" stroke="#1450b0" stroke-width="0.7"/>
<polyline points="1030.6,665 917.4,814.65 824.4,964.3" stroke="#2fa866" stroke-width="3" fill="none" stroke-linejoin="round"/>
<polygon points="1030.6,671.67 1024.9,661.67 1036.3,661.67" fill="#2fa866" stroke="#1f8a50" stroke-width="0.7"/>
<polygon points="917.4,821.32 911.7,811.32 923.1,811.32" fill="#2fa866" stroke="#1f8a50" stroke-width="0.7"/>
<polygon points="824.4,970.97 818.7,960.97 830.1,960.97" fill="#2fa866" stroke="#1f8a50" stroke-width="0.7"/>
<polyline points="1135.5,665 999.8,814.65 902,964.3" stroke="#b074e2" stroke-width="3" fill="none" stroke-linejoin="round"/>
<polygon points="1135.5,658.9 1141.6,665 1135.5,671.1 1129.4,665" fill="#b074e2" stroke="#9060c8" stroke-width="0.7"/>
<polygon points="999.8,808.55 1005.9,814.65 999.8,820.75 993.7,814.65" fill="#b074e2" stroke="#9060c8" stroke-width="0.7"/>
<polygon points="902,958.2 908.1,964.3 902,970.4 895.9,964.3" fill="#b074e2" stroke="#9060c8" stroke-width="0.7"/>
<polyline points="1064,665 912.6,814.65 831.8,964.3" stroke="#cf9a0a" stroke-width="3" fill="none" stroke-linejoin="round"/>
<polygon points="1057.87,665 1067.07,659.4 1067.07,670.6" fill="#cf9a0a" stroke="#a87c08" stroke-width="0.7"/>
<polygon points="906.47,814.65 915.67,809.05 915.67,820.25" fill="#cf9a0a" stroke="#a87c08" stroke-width="0.7"/>
<polygon points="825.67,964.3 834.87,958.7 834.87,969.9" fill="#cf9a0a" stroke="#a87c08" stroke-width="0.7"/>
<path d="M1369.5 622.7H1851.9 M1369.5 622.7V997.9" stroke="#000" stroke-width="2.8" fill="none" stroke-linecap="square"/>
<path d="M1417.6 622.7V629.9 M1514.1 622.7V629.9 M1610.6 622.7V629.9 M1707.1 622.7V629.9 M1803.6 622.7V629.9 M1369.35 622.7V626.9 M1465.85 622.7V626.9 M1562.35 622.7V626.9 M1658.85 622.7V626.9 M1755.35 622.7V626.9 M1851.85 622.7V626.9 M1369.5 660.5H1376.7 M1369.5 735.38H1376.7 M1369.5 810.25H1376.7 M1369.5 885.12H1376.7 M1369.5 960H1376.7 M1369.5 697.94H1373.7 M1369.5 772.81H1373.7 M1369.5 847.69H1373.7 M1369.5 922.56H1373.7 M1369.5 997.44H1373.7" stroke="#000" stroke-width="2.4" fill="none"/>
<text x="1417.6" y="610.9" font-family="'Liberation Serif','Times New Roman',serif" font-size="21.2" font-weight="normal" text-anchor="middle">6</text>
<text x="1514.1" y="610.9" font-family="'Liberation Serif','Times New Roman',serif" font-size="21.2" font-weight="normal" text-anchor="middle">8</text>
<text x="1610.6" y="610.9" font-family="'Liberation Serif','Times New Roman',serif" font-size="21.2" font-weight="normal" text-anchor="middle">10</text>
<text x="1707.1" y="610.9" font-family="'Liberation Serif','Times New Roman',serif" font-size="21.2" font-weight="normal" text-anchor="middle">12</text>
<text x="1803.6" y="610.9" font-family="'Liberation Serif','Times New Roman',serif" font-size="21.2" font-weight="normal" text-anchor="middle">14</text>
<text x="1360.5" y="666.5" font-family="'Liberation Serif','Times New Roman',serif" font-size="21.2" font-weight="normal" text-anchor="end">10</text>
<text x="1360.5" y="741.38" font-family="'Liberation Serif','Times New Roman',serif" font-size="21.2" font-weight="normal" text-anchor="end">20</text>
<text x="1360.5" y="816.25" font-family="'Liberation Serif','Times New Roman',serif" font-size="21.2" font-weight="normal" text-anchor="end">30</text>
<text x="1360.5" y="891.12" font-family="'Liberation Serif','Times New Roman',serif" font-size="21.2" font-weight="normal" text-anchor="end">40</text>
<text x="1360.5" y="966" font-family="'Liberation Serif','Times New Roman',serif" font-size="21.2" font-weight="normal" text-anchor="end">50</text>
<text x="1613.9" y="588.9" font-family="'Liberation Serif','Times New Roman',serif" font-size="23" font-weight="normal" text-anchor="middle">Available Phosphorus/mg·kg<tspan dy="-9" font-size="14">-1</tspan></text>
<text transform="matrix(0 -0.21374 0.18192 0 1332.13 882.53)" font-family="'Liberation Serif','Times New Roman',serif" font-size="100">Soil Depth/cm</text>
<path d="M1657.9 660.5H1670.7 M1657.9 656.5V664.5 M1670.7 656.5V664.5 M1494.5 810.25H1502.5 M1494.5 806.25V814.25 M1502.5 806.25V814.25 M1436.1 960H1442.1 M1436.1 956V964 M1442.1 956V964" stroke="#8e8e8e" stroke-width="1.1" fill="none"/>
<path d="M1740.2 660.5H1760.2 M1740.2 656.5V664.5 M1760.2 656.5V664.5 M1524.9 810.25H1532.9 M1524.9 806.25V814.25 M1532.9 806.25V814.25 M1467.2 960H1475.2 M1467.2 956V964 M1475.2 956V964" stroke="#dea0a6" stroke-width="1.1" fill="none"/>
<path d="M1792.7 660.5H1800.7 M1792.7 656.5V664.5 M1800.7 656.5V664.5 M1510.7 810.25H1536.3 M1510.7 806.25V814.25 M1536.3 806.25V814.25 M1441.9 960H1447.9 M1441.9 956V964 M1447.9 956V964" stroke="#94aad8" stroke-width="1.1" fill="none"/>
<path d="M1783.7 660.5H1793.7 M1783.7 656.5V664.5 M1793.7 656.5V664.5 M1531.3 810.25H1541.3 M1531.3 806.25V814.25 M1541.3 806.25V814.25 M1429.7 960H1435.7 M1429.7 956V964 M1435.7 956V964" stroke="#98cbb0" stroke-width="1.1" fill="none"/>
<path d="M1796.2 660.5H1813.4 M1796.2 656.5V664.5 M1813.4 656.5V664.5 M1548.2 810.25H1580.2 M1548.2 806.25V814.25 M1580.2 806.25V814.25 M1455.2 960H1474.4 M1455.2 956V964 M1474.4 956V964" stroke="#c8afe6" stroke-width="1.1" fill="none"/>
<path d="M1782.3 660.5H1804.7 M1782.3 656.5V664.5 M1804.7 656.5V664.5 M1548.1 810.25H1583.5 M1548.1 806.25V814.25 M1583.5 806.25V814.25 M1474.3 960H1482.3 M1474.3 956V964 M1482.3 956V964" stroke="#dec690" stroke-width="1.1" fill="none"/>
<polyline points="1664.3,660.5 1498.5,810.25 1439.1,960" stroke="#474747" stroke-width="3" fill="none" stroke-linejoin="round"/>
<rect x="1660" y="656.3" width="8.6" height="8.4" fill="#525252" stroke="#303030" stroke-width="0.7"/>
<rect x="1494.2" y="806.05" width="8.6" height="8.4" fill="#525252" stroke="#303030" stroke-width="0.7"/>
<rect x="1434.8" y="955.8" width="8.6" height="8.4" fill="#525252" stroke="#303030" stroke-width="0.7"/>
<polyline points="1750.2,660.5 1528.9,810.25 1471.2,960" stroke="#ec3c40" stroke-width="3" fill="none" stroke-linejoin="round"/>
<ellipse cx="1750.2" cy="660.5" rx="5" ry="5" fill="#ec3c40" stroke="#c8282e" stroke-width="0.7"/>
<ellipse cx="1528.9" cy="810.25" rx="5" ry="5" fill="#ec3c40" stroke="#c8282e" stroke-width="0.7"/>
<ellipse cx="1471.2" cy="960" rx="5" ry="5" fill="#ec3c40" stroke="#c8282e" stroke-width="0.7"/>
<polyline points="1796.7,660.5 1523.5,810.25 1444.9,960" stroke="#1b68dc" stroke-width="3" fill="none" stroke-linejoin="round"/>
<polygon points="1796.7,653.7 1791,663.9 1802.4,663.9" fill="#1b68dc" stroke="#1450b0" stroke-width="0.7"/>
<polygon points="1523.5,803.45 1517.8,813.65 1529.2,813.65" fill="#1b68dc" stroke="#1450b0" stroke-width="0.7"/>
<polygon points="1444.9,953.2 1439.2,963.4 1450.6,963.4" fill="#1b68dc" stroke="#1450b0" stroke-width="0.7"/>
<polyline points="1788.7,660.5 1536.3,810.25 1432.7,960" stroke="#2fa866" stroke-width="3" fill="none" stroke-linejoin="round"/>
<polygon points="1788.7,667.17 1783,657.17 1794.4,657.17" fill="#2fa866" stroke="#1f8a50" stroke-width="0.7"/>
<polygon points="1536.3,816.92 1530.6,806.92 1542,806.92" fill="#2fa866" stroke="#1f8a50" stroke-width="0.7"/>
<polygon points="1432.7,966.67 1427,956.67 1438.4,956.67" fill="#2fa866" stroke="#1f8a50" stroke-width="0.7"/>
<polyline points="1804.8,660.5 1564.2,810.25 1464.8,960" stroke="#b074e2" stroke-width="3" fill="none" stroke-linejoin="round"/>
<polygon points="1804.8,654.4 1810.9,660.5 1804.8,666.6 1798.7,660.5" fill="#b074e2" stroke="#9060c8" stroke-width="0.7"/>
<polygon points="1564.2,804.15 1570.3,810.25 1564.2,816.35 1558.1,810.25" fill="#b074e2" stroke="#9060c8" stroke-width="0.7"/>
<polygon points="1464.8,953.9 1470.9,960 1464.8,966.1 1458.7,960" fill="#b074e2" stroke="#9060c8" stroke-width="0.7"/>
<polyline points="1793.5,660.5 1565.8,810.25 1478.3,960" stroke="#cf9a0a" stroke-width="3" fill="none" stroke-linejoin="round"/>
<polygon points="1787.37,660.5 1796.57,654.9 1796.57,666.1" fill="#cf9a0a" stroke="#a87c08" stroke-width="0.7"/>
<polygon points="1559.67,810.25 1568.87,804.65 1568.87,815.85" fill="#cf9a0a" stroke="#a87c08" stroke-width="0.7"/>
<polygon points="1472.17,960 1481.37,954.4 1481.37,965.6" fill="#cf9a0a" stroke="#a87c08" stroke-width="0.7"/>
<g transform="matrix(1 0 0 0.816 0 196.14)">
<path d="M65.4 1066H566 M65.4 1066V1479.36" stroke="#000" stroke-width="2.8" fill="none" stroke-linecap="square"/>
<path d="M107.2 1066V1073.2 M190.2 1066V1073.2 M273.2 1066V1073.2 M356.2 1066V1073.2 M439.2 1066V1073.2 M522.2 1066V1073.2 M65.7 1066V1070.2 M148.7 1066V1070.2 M231.7 1066V1070.2 M314.7 1066V1070.2 M397.7 1066V1070.2 M480.7 1066V1070.2 M563.7 1066V1070.2 M65.4 1134.14H72.6 M65.4 1203.13H72.6 M65.4 1272.13H72.6 M65.4 1341.12H72.6 M65.4 1410.12H72.6 M65.4 1479.11H72.6 M65.4 1099.64H69.6 M65.4 1168.63H69.6 M65.4 1237.63H69.6 M65.4 1306.62H69.6 M65.4 1375.62H69.6 M65.4 1444.62H69.6" stroke="#000" stroke-width="2.4" fill="none"/>
<text x="107.2" y="1052" font-family="'Liberation Serif','Times New Roman',serif" font-size="21.5" font-weight="normal" text-anchor="middle">4</text>
<text x="190.2" y="1052" font-family="'Liberation Serif','Times New Roman',serif" font-size="21.5" font-weight="normal" text-anchor="middle">6</text>
<text x="273.2" y="1052" font-family="'Liberation Serif','Times New Roman',serif" font-size="21.5" font-weight="normal" text-anchor="middle">8</text>
<text x="356.2" y="1052" font-family="'Liberation Serif','Times New Roman',serif" font-size="21.5" font-weight="normal" text-anchor="middle">10</text>
<text x="439.2" y="1052" font-family="'Liberation Serif','Times New Roman',serif" font-size="21.5" font-weight="normal" text-anchor="middle">12</text>
<text x="522.2" y="1052" font-family="'Liberation Serif','Times New Roman',serif" font-size="21.5" font-weight="normal" text-anchor="middle">14</text>
<text x="56.4" y="1140.54" font-family="'Liberation Serif','Times New Roman',serif" font-size="22" font-weight="normal" text-anchor="end">10</text>
<text x="56.4" y="1209.53" font-family="'Liberation Serif','Times New Roman',serif" font-size="22" font-weight="normal" text-anchor="end">20</text>
<text x="56.4" y="1278.53" font-family="'Liberation Serif','Times New Roman',serif" font-size="22" font-weight="normal" text-anchor="end">30</text>
<text x="56.4" y="1347.52" font-family="'Liberation Serif','Times New Roman',serif" font-size="22" font-weight="normal" text-anchor="end">40</text>
<text x="56.4" y="1416.52" font-family="'Liberation Serif','Times New Roman',serif" font-size="22" font-weight="normal" text-anchor="end">50</text>
<text x="56.4" y="1485.51" font-family="'Liberation Serif','Times New Roman',serif" font-size="22" font-weight="normal" text-anchor="end">60</text>
<text x="320.4" y="1031.93" font-family="'Liberation Serif','Times New Roman',serif" font-size="23" font-weight="normal" text-anchor="middle">Organic matter/g·kg<tspan dy="-9" font-size="14">-1</tspan></text>
<path d="M380.7 1134.14H406.1 M380.7 1130.14V1138.14 M406.1 1130.14V1138.14 M290.7 1272.5H310.3 M290.7 1268.5V1276.5 M310.3 1268.5V1276.5 M117.8 1410.85H137.4 M117.8 1406.85V1414.85 M137.4 1406.85V1414.85" stroke="#8e8e8e" stroke-width="1.1" fill="none"/>
<path d="M438.3 1134.14H455.7 M438.3 1130.14V1138.14 M455.7 1130.14V1138.14 M319.5 1272.5H331.5 M319.5 1268.5V1276.5 M331.5 1268.5V1276.5 M146.9 1410.85H220.7 M146.9 1406.85V1414.85 M220.7 1406.85V1414.85" stroke="#dea0a6" stroke-width="1.1" fill="none"/>
<path d="M498.1 1134.14H509.1 M498.1 1130.14V1138.14 M509.1 1130.14V1138.14 M342.6 1272.5H364.2 M342.6 1268.5V1276.5 M364.2 1268.5V1276.5 M216.4 1410.85H240.4 M216.4 1406.85V1414.85 M240.4 1406.85V1414.85" stroke="#94aad8" stroke-width="1.1" fill="none"/>
<path d="M459.8 1134.14H484.4 M459.8 1130.14V1138.14 M484.4 1130.14V1138.14 M316 1272.5H328 M316 1268.5V1276.5 M328 1268.5V1276.5 M194.4 1410.85H206.4 M194.4 1406.85V1414.85 M206.4 1406.85V1414.85" stroke="#98cbb0" stroke-width="1.1" fill="none"/>
<path d="M458.5 1134.14H468.5 M458.5 1130.14V1138.14 M468.5 1130.14V1138.14 M328.5 1272.5H338.5 M328.5 1268.5V1276.5 M338.5 1268.5V1276.5 M215.3 1410.85H227.3 M215.3 1406.85V1414.85 M227.3 1406.85V1414.85" stroke="#c8afe6" stroke-width="1.1" fill="none"/>
<path d="M447 1134.14H457 M447 1130.14V1138.14 M457 1130.14V1138.14 M314.7 1272.5H326.7 M314.7 1268.5V1276.5 M326.7 1268.5V1276.5 M195.4 1410.85H207.4 M195.4 1406.85V1414.85 M207.4 1406.85V1414.85" stroke="#dec690" stroke-width="1.1" fill="none"/>
<polyline points="393.4,1134.14 300.5,1272.5 127.6,1410.85" stroke="#474747" stroke-width="3" fill="none" stroke-linejoin="round"/>
<rect x="389.1" y="1129.94" width="8.6" height="8.4" fill="#525252" stroke="#303030" stroke-width="0.7"/>
<rect x="296.2" y="1268.3" width="8.6" height="8.4" fill="#525252" stroke="#303030" stroke-width="0.7"/>
<rect x="123.3" y="1406.65" width="8.6" height="8.4" fill="#525252" stroke="#303030" stroke-width="0.7"/>
<polyline points="447,1134.14 325.5,1272.5 183.8,1410.85" stroke="#ec3c40" stroke-width="3" fill="none" stroke-linejoin="round"/>
<ellipse cx="447" cy="1134.14" rx="5" ry="5" fill="#ec3c40" stroke="#c8282e" stroke-width="0.7"/>
<ellipse cx="325.5" cy="1272.5" rx="5" ry="5" fill="#ec3c40" stroke="#c8282e" stroke-width="0.7"/>
<ellipse cx="183.8" cy="1410.85" rx="5" ry="5" fill="#ec3c40" stroke="#c8282e" stroke-width="0.7"/>
<polyline points="503.6,1134.14 353.4,1272.5 228.4,1410.85" stroke="#1b68dc" stroke-width="3" fill="none" stroke-linejoin="round"/>
<polygon points="503.6,1127.34 497.9,1137.54 509.3,1137.54" fill="#1b68dc" stroke="#1450b0" stroke-width="0.7"/>
<polygon points="353.4,1265.7 347.7,1275.9 359.1,1275.9" fill="#1b68dc" stroke="#1450b0" stroke-width="0.7"/>
<polygon points="228.4,1404.05 222.7,1414.25 234.1,1414.25" fill="#1b68dc" stroke="#1450b0" stroke-width="0.7"/>
<polyline points="472.1,1134.14 322,1272.5 200.4,1410.85" stroke="#2fa866" stroke-width="3" fill="none" stroke-linejoin="round"/>
<polygon points="472.1,1140.8 466.4,1130.8 477.8,1130.8" fill="#2fa866" stroke="#1f8a50" stroke-width="0.7"/>
<polygon points="322,1279.16 316.3,1269.16 327.7,1269.16" fill="#2fa866" stroke="#1f8a50" stroke-width="0.7"/>
<polygon points="200.4,1417.52 194.7,1407.52 206.1,1407.52" fill="#2fa866" stroke="#1f8a50" stroke-width="0.7"/>
<polyline points="463.5,1134.14 333.5,1272.5 221.3,1410.85" stroke="#b074e2" stroke-width="3" fill="none" stroke-linejoin="round"/>
<polygon points="463.5,1128.04 469.6,1134.14 463.5,1140.24 457.4,1134.14" fill="#b074e2" stroke="#9060c8" stroke-width="0.7"/>
<polygon points="333.5,1266.4 339.6,1272.5 333.5,1278.6 327.4,1272.5" fill="#b074e2" stroke="#9060c8" stroke-width="0.7"/>
<polygon points="221.3,1404.75 227.4,1410.85 221.3,1416.95 215.2,1410.85" fill="#b074e2" stroke="#9060c8" stroke-width="0.7"/>
<polyline points="452,1134.14 320.7,1272.5 201.4,1410.85" stroke="#cf9a0a" stroke-width="3" fill="none" stroke-linejoin="round"/>
<polygon points="445.87,1134.14 455.07,1128.54 455.07,1139.74" fill="#cf9a0a" stroke="#a87c08" stroke-width="0.7"/>
<polygon points="314.57,1272.5 323.77,1266.9 323.77,1278.1" fill="#cf9a0a" stroke="#a87c08" stroke-width="0.7"/>
<polygon points="195.27,1410.85 204.47,1405.25 204.47,1416.45" fill="#cf9a0a" stroke="#a87c08" stroke-width="0.7"/>
</g>
<text transform="matrix(0 -0.19364 0.17420 0 22.99 1290.9)" font-family="'Liberation Serif','Times New Roman',serif" font-size="100">Soil Depth/cm</text>
<rect x="1545" y="60" width="250" height="33.8" fill="#fff"/>
<text transform="matrix(0.62121 0 0 0.56969 15.37 163)" font-family="'DejaVu Sans','Liberation Sans',sans-serif" font-size="100" stroke="#000" stroke-width="0.6">a</text>
<text transform="matrix(0.66462 0 0 0.60336 661.05 163.56)" font-family="'DejaVu Sans','Liberation Sans',sans-serif" font-size="100" stroke="#000" stroke-width="0.6">b</text>
<text transform="matrix(0.61894 0 0 0.57666 1318.8 162.69)" font-family="'DejaVu Sans','Liberation Sans',sans-serif" font-size="100" stroke="#000" stroke-width="0.6">c</text>
<text transform="matrix(0.65440 0 0 0.60336 10.2 643.86)" font-family="'DejaVu Sans','Liberation Sans',sans-serif" font-size="100" stroke="#000" stroke-width="0.6">d</text>
<text transform="matrix(0.59172 0 0 0.57317 650.35 643.6)" font-family="'DejaVu Sans','Liberation Sans',sans-serif" font-size="100" stroke="#000" stroke-width="0.6">e</text>
<text transform="matrix(0.66954 0 0 0.62632 1320.96 643)" font-family="'DejaVu Sans','Liberation Sans',sans-serif" font-size="100" stroke="#000" stroke-width="0.6">f</text>
<text transform="matrix(0.64622 0 0 0.59766 10.65 1071.77)" font-family="'DejaVu Sans','Liberation Sans',sans-serif" font-size="100" stroke="#000" stroke-width="0.6">g</text>
</svg>
</body></html>
